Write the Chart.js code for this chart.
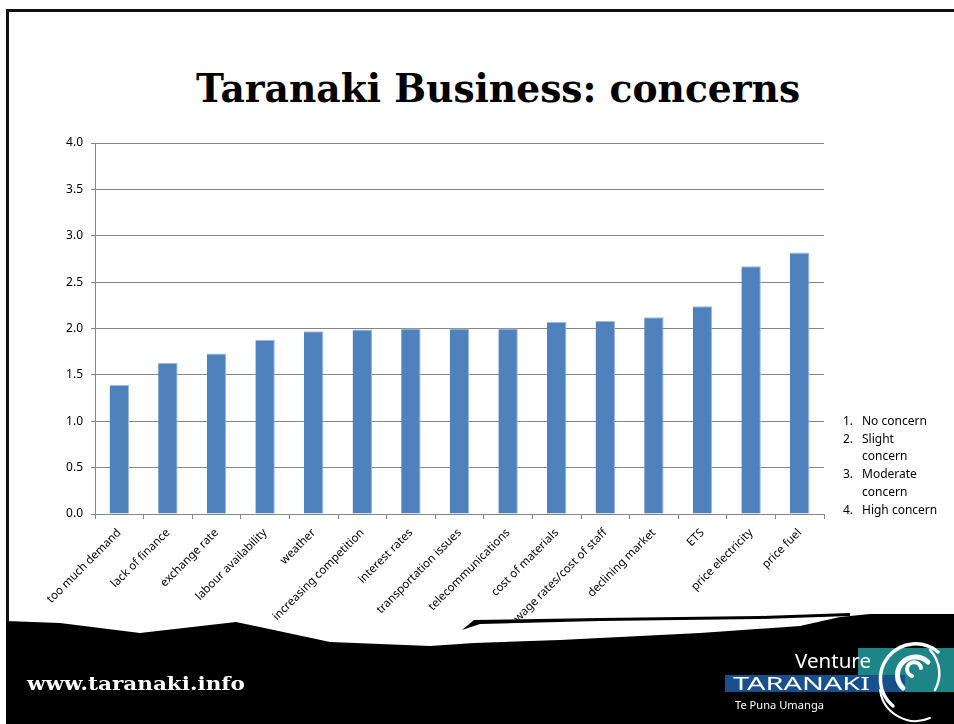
<!DOCTYPE html>
<html>
<head>
<meta charset="utf-8">
<script src="https://cdn.jsdelivr.net/npm/chart.js@4"></script>
<style>
  html, body { margin: 0; padding: 0; background: #fff; }
  #page { position: relative; width: 954px; height: 724px; overflow: hidden; background: #fff; }
  #frameTop { position: absolute; left: 6px; top: 9px; width: 948px; height: 3px; background: #111; }
  #frameLeft { position: absolute; left: 6px; top: 9px; width: 3px; height: 715px; background: #111; }
  #title { position: absolute; left: 0; top: 64px; width: 954px; height: 50px; }
  #title span { position: absolute; white-space: nowrap; font-family: "DejaVu Serif", serif; font-weight: bold;
    font-size: 40px; color: #000; transform-origin: 0 0; }
  #chart { position: absolute; left: 0; top: 0; z-index: 1; }
  #scale { position: absolute; left: 843px; top: 412px; font-family: "Noto Sans", sans-serif; font-size: 12px;
    line-height: 17.7px; color: #000; z-index: 1; }
  #scale div { position: relative; padding-left: 19px; width: 78px; }
  #scale b { position: absolute; left: 0; font-weight: normal; }
  #footer { position: absolute; left: 0; top: 0; z-index: 2; }
</style>
</head>
<body>
<div id="page">
  <div id="frameTop"></div>
  <div id="frameLeft"></div>
  <div id="title"><span id="titleText">Taranaki Business: concerns</span></div>
  <canvas id="chart" width="954" height="724"></canvas>
  <div id="scale"></div>
  <svg id="footer" width="954" height="724" viewBox="0 0 954 724">
    <path d="M6 621 L60 623 L140 633 L236 622 L330 642 L430 646 L474 643 L560 640 L700 633 L800 626 L840 617 L870 614 L954 614 L954 724 L6 724 Z" fill="#000"/>
    <path d="M462 630 L474 620 L600 618 L760 616 L850 613 L850 616 L760 619 L600 621 L480 624 Z" fill="#000"/>
    <rect x="858" y="648" width="96" height="44" fill="#1d8585"/>
    <rect x="725" y="675" width="180" height="17" fill="#17508c"/>
    <g fill="none" stroke="#fff" stroke-linecap="round">
      <path d="M893 706 A30 30 0 1 1 938 652" stroke-width="3.5"/>
      <path d="M903 688 A17 17 0 1 1 928 662" stroke-width="5"/>
      <path d="M912 676 A7 7 0 1 1 921 668" stroke-width="4"/>
      <path d="M930 650 A34 34 0 0 1 935 690" stroke-width="2.5"/>
      <path d="M880 690 A36 36 0 0 0 930 718" stroke-width="2"/>
    </g>
    <text x="27" y="690" fill="#fff" font-family="DejaVu Serif, serif" font-weight="bold" font-size="19" textLength="218" lengthAdjust="spacingAndGlyphs">www.taranaki.info</text>
    <text x="795" y="668" fill="#fff" font-family="Noto Sans, sans-serif" font-size="20" textLength="76" lengthAdjust="spacingAndGlyphs">Venture</text>
    <text x="733" y="690" fill="#fff" font-family="Noto Sans, sans-serif" font-size="18" textLength="137" lengthAdjust="spacingAndGlyphs">TARANAKI</text>
    <text x="735" y="709" fill="#fff" font-family="Noto Sans, sans-serif" font-size="11" textLength="89" lengthAdjust="spacingAndGlyphs">Te Puna Umanga</text>
  </svg>
</div>
<script>
var categories = ['too much demand', 'lack of finance', 'exchange rate', 'labour availability', 'weather',
  'increasing competition', 'interest rates', 'transportation issues', 'telecommunications',
  'cost of materials', 'wage rates/cost of staff', 'declining market', 'ETS', 'price electricity', 'price fuel'];
var concernValues = [1.39, 1.63, 1.73, 1.88, 1.97, 1.99, 2.00, 2.00, 2.00, 2.07, 2.08, 2.12, 2.24, 2.67, 2.82];
var yTicks = [0, 0.5, 1.0, 1.5, 2.0, 2.5, 3.0, 3.5, 4.0];
var scaleNotes = [['1.', 'No concern'], ['2.', 'Slight concern'], ['3.', 'Moderate concern'], ['4.', 'High concern']];

// fit title to its width in the slide
var t = document.getElementById('titleText');
var w = t.offsetWidth;
t.style.transform = 'scaleX(' + (604 / w) + ')';
t.style.left = '196px';

var sc = document.getElementById('scale');
scaleNotes.forEach(function(n){
  var d = document.createElement('div');
  d.innerHTML = '<b>' + n[0] + '</b>' + n[1];
  sc.appendChild(d);
});

var gridGray = '#868686';
new Chart(document.getElementById('chart'), {
  type: 'bar',
  data: {
    labels: categories,
    datasets: [{ data: concernValues, backgroundColor: '#4f81bd', borderColor: '#9fb9dc', borderWidth: { top: 1, left: 0, right: 1, bottom: 0 },
      barPercentage: 0.4, categoryPercentage: 1 }]
  },
  options: {
    responsive: false,
    animation: false,
    layout: { padding: { left: 0, top: 143, right: 130, bottom: 0 } },
    plugins: { legend: { display: false }, tooltip: { enabled: false } },
    scales: {
      x: {
        afterFit: function(s){ s.height = 210; },
        border: { color: gridGray },
        grid: { drawOnChartArea: false, drawTicks: true, tickLength: 5, color: gridGray, offset: true },
        ticks: { minRotation: 45, maxRotation: 45, autoSkip: false, padding: 7, color: '#000',
          font: { family: 'Noto Sans', size: 11.5 } }
      },
      y: {
        min: 0, max: 4,
        afterFit: function(s){ s.width = 95; },
        afterBuildTicks: function(s){ s.ticks = yTicks.map(function(v){ return { value: v }; }); },
        border: { color: gridGray },
        grid: { color: gridGray, tickLength: 4 },
        ticks: { padding: 8, color: '#000', font: { family: 'Noto Sans', size: 12 },
          callback: function(v){ return Number(v).toFixed(1); } }
      }
    }
  }
});
</script>
</body>
</html>
